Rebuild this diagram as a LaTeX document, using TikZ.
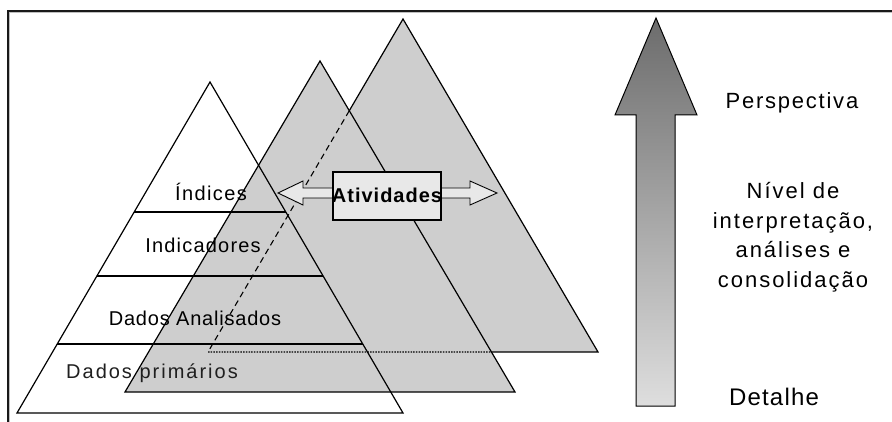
\documentclass[tikz,border=0pt]{standalone}
\usepackage{fontspec}
\setmainfont{Liberation Sans}
\usetikzlibrary{calc,intersections}
\definecolor{pyrgray}{RGB}{206,206,206}
\definecolor{boxgray}{RGB}{232,232,232}
\definecolor{arrowtop}{RGB}{108,108,108}
\definecolor{arrowbot}{RGB}{222,222,222}
\newcommand{\lsfont}[2]{\fontsize{#1}{#1}\selectfont\addfontfeatures{LetterSpace=#2}}
\newcommand{\lsfontml}[3]{\fontsize{#1}{#3}\selectfont\addfontfeatures{LetterSpace=#2}}
\tikzset{
  edge/.style={line width=1.2pt, black},
  level/.style={line width=1.4pt, black},
  lbl/.style={inner sep=0pt, anchor=center, text=black},
  side/.style={inner sep=0pt, align=center, anchor=center}
}
\begin{document}
\begin{tikzpicture}[x=1pt,y=-1pt]
\useasboundingbox (0,0) rectangle (892,422);
\fill[white] (0,0) rectangle (892,422);
% frame
\draw[line width=1pt, gray!50] (9.8,423) -- (9.8,12.8) -- (893,12.8);
\draw[line width=2pt, black!90] (8,423) -- (8,11) -- (893,11);

% triangle corners
\coordinate (A1) at (210,82);  \coordinate (L1) at (17,413);  \coordinate (R1) at (403,413);
\coordinate (A2) at (320,61);  \coordinate (L2) at (125,392); \coordinate (R2) at (515,392);
\coordinate (A3) at (403,19);  \coordinate (L3) at (208,352); \coordinate (R3) at (598,352);
\coordinate (P) at (intersection of A3--L3 and A2--R2);
\coordinate (Q) at (intersection of L3--R3 and A2--R2);

% back triangle
\fill[pyrgray] (A3) -- (L3) -- (R3) -- cycle;
\draw[edge] (P) -- (A3) -- (R3) -- (Q);
% middle triangle
\fill[pyrgray] (A2) -- (L2) -- (R2) -- cycle;
\draw[edge] (A2) -- (L2) -- (R2) -- cycle;
% hidden edges of back triangle
\draw[line width=1.1pt, dash pattern=on 6pt off 4pt] (P) -- (L3);
\draw[line width=1.3pt, dash pattern=on 1.5pt off 1.2pt] (L3) -- (Q);
% front triangle (outline only)
\draw[edge, line join=miter] (A1) -- (L1) -- (R1) -- cycle;
\draw[level] ($(A1)!130/331!(L1)$) -- ($(A1)!130/331!(R1)$);
\draw[level] ($(A1)!194/331!(L1)$) -- ($(A1)!194/331!(R1)$);
\draw[level] ($(A1)!262/331!(L1)$) -- ($(A1)!262/331!(R1)$);

% level labels
\node[lbl] (ind) at (211,192) {\lsfont{20}{7}Índices};
\node[lbl] (indic) at (203,245) {\lsfont{20}{6}Indicadores};
\node[lbl] (anal) at (195,318) {\lsfont{20}{4}Dados Analisados};
\node[lbl, text=black!88] (prim) at (152,373) {\lsfont{20}{10}Dados primários};

% double arrow behind Atividades
\filldraw[fill=boxgray, draw=black, line width=0.9pt, line join=miter]
  (278,193) -- (303,181) -- (303,188) -- (470,188) -- (470,181) -- (497,193)
  -- (470,205) -- (470,198) -- (303,198) -- (303,205) -- cycle;
\node[draw=black, line width=1.1pt, fill=boxgray, minimum width=108pt, minimum height=48pt, inner sep=0pt] (boxA) at (387,196) {};
\node[lbl] (ativ) at (387,195) {\lsfont{20}{5}\bfseries Atividades};

% big vertical arrow
\shade[top color=arrowtop, bottom color=arrowbot, draw=black, line width=1pt, line join=miter]
  (636,406) -- (636,115) -- (615,115) -- (656,18) -- (697,115) -- (675,115) -- (675,406) -- cycle;
\coordinate (tip) at (656,18);

% side labels
\node[lbl] (persp) at (792,103) {\lsfont{22}{8}Perspectiva};
\node[side, font={\lsfontml{22}{9}{29.5}}] (nivel) at (793,237) {Nível de\\ interpretação,\\ análises e\\ consolidação};
\node[lbl] (det) at (774,397) {\lsfont{24}{5}Detalhe};
\end{tikzpicture}
\end{document}
